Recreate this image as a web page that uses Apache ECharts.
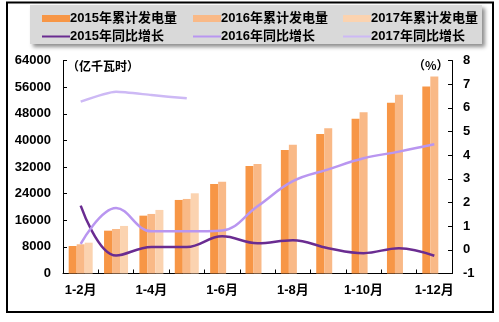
<!DOCTYPE html>
<html>
<head>
<meta charset="utf-8">
<script src="https://cdn.jsdelivr.net/npm/echarts@6/dist/echarts.min.js"></script>
<style>
html,body{margin:0;padding:0;background:#fff;}
#chart{width:499px;height:322px;}
</style>
</head>
<body>
<div id="chart"></div>
<script>
var categories = ['1-2月','1-3月','1-4月','1-5月','1-6月','1-7月','1-8月','1-9月','1-10月','1-11月','1-12月'];
var gen2015 = [8270, 12870, 17380, 22100, 26900, 32300, 37140, 41950, 46470, 51280, 56180];
var gen2016 = [8780, 13380, 17890, 22400, 27600, 32900, 38650, 43670, 48480, 53680, 59190];
var gen2017 = [9260, 14290, 19100, 24100, null, null, null, null, null, null, null];
var growth2015 = [1.87, -0.24, 0.12, 0.12, 0.57, 0.28, 0.41, 0.07, -0.14, 0.07, -0.25];
var growth2016 = [0.25, 1.77, 0.78, 0.78, 0.82, 1.84, 2.9, 3.4, 3.87, 4.15, 4.46];
var growth2017 = [6.26, 6.68, 6.54, 6.4];
var leftTicks = {min: 0, max: 64000, interval: 8000};
var rightTicks = {min: -1, max: 8, interval: 1};
var names = ['2015年累计发电量','2016年累计发电量','2017年累计发电量','2015年同比增长','2016年同比增长','2017年同比增长'];

var FONT = '"Liberation Sans", "Noto Sans CJK SC", sans-serif';
var barColors = ['#F79646', '#F9B987', '#FBD3B0'];
var lineColors = ['#6A2C91', '#B996F0', '#CDB9F5'];

var chart = echarts.init(document.getElementById('chart'), null, {renderer: 'canvas'});

var txt = {fontFamily: FONT, fontSize: 13, fontWeight: 'bold', color: '#000'};

function mkLegend(name, left, top, isLine) {
  return {
    data: [name], left: left, top: top, padding: 0,
    itemWidth: 28, itemHeight: isLine ? 2 : 7, icon: 'rect',
    itemGap: 0, textStyle: Object.assign({padding: [0,0,0,-5]}, txt),
    selectedMode: false
  };
}

var option = {
  animation: false,
  backgroundColor: '#fff',
  graphic: [
    {type: 'rect', z: -10, shape: {x: 7, y: 2.5, width: 486, height: 309.5},
     style: {fill: '#fff', stroke: '#000', lineWidth: 2}},
    {type: 'rect', z: 0, shape: {x: 30, y: 5, width: 452, height: 39},
     style: {fill: '#D9D9D9', shadowColor: 'rgba(0,0,0,0.45)', shadowBlur: 4, shadowOffsetX: 3, shadowOffsetY: 3}},
    {type: 'text', left: 67, top: 60, z: 10,
     style: {text: '（亿千瓦时）', font: 'bold 12px "Noto Sans CJK SC", sans-serif', fill: '#000'}},
    {type: 'text', left: 413, top: 59, z: 10,
     style: {text: '（%）', font: 'bold 12px "Noto Sans CJK SC", sans-serif', fill: '#000'}}
  ],
  legend: [
    mkLegend(names[0], 42, 12, false),
    mkLegend(names[1], 193, 12, false),
    mkLegend(names[2], 343, 12, false),
    mkLegend(names[3], 42, 30, true),
    mkLegend(names[4], 193, 30, true),
    mkLegend(names[5], 343, 30, true)
  ],
  grid: {left: 63, right: 47, top: 60.5, bottom: 48.5, containLabel: false},
  xAxis: {
    type: 'category', data: categories, boundaryGap: true,
    axisLine: {lineStyle: {color: '#000', width: 1}},
    axisTick: {show: true, inside: true, length: 4, interval: 0, lineStyle: {color: '#000'}},
    axisLabel: Object.assign({interval: 1, margin: 10}, txt),
    splitLine: {show: false}
  },
  yAxis: [
    {type: 'value', min: leftTicks.min, max: leftTicks.max, interval: leftTicks.interval,
     axisLine: {show: true, lineStyle: {color: '#000', width: 1}},
     axisTick: {show: true, inside: true, length: 4, lineStyle: {color: '#000'}},
     axisLabel: Object.assign({margin: 12, formatter: function (v) { return String(v); }}, txt),
     splitLine: {show: false}},
    {type: 'value', min: rightTicks.min, max: rightTicks.max, interval: rightTicks.interval, position: 'right',
     axisLine: {show: true, lineStyle: {color: '#000', width: 1}},
     axisTick: {show: true, inside: true, length: 4, lineStyle: {color: '#000'}},
     axisLabel: Object.assign({margin: 11, formatter: function (v) { return String(v); }}, txt),
     splitLine: {show: false}}
  ],
  series: [
    {name: names[0], type: 'bar', data: gen2015, barWidth: 8, barGap: '0%', itemStyle: {color: barColors[0]}},
    {name: names[1], type: 'bar', data: gen2016, barWidth: 8, barGap: '0%', itemStyle: {color: barColors[1]}},
    {name: names[2], type: 'bar', data: gen2017, barWidth: 8, barGap: '0%', itemStyle: {color: barColors[2]}},
    {name: names[3], type: 'line', yAxisIndex: 1, data: growth2015, smooth: 0.4, symbol: 'none', z: 5,
     lineStyle: {color: lineColors[0], width: 2.5}, itemStyle: {color: lineColors[0]}},
    {name: names[4], type: 'line', yAxisIndex: 1, data: growth2016, smooth: 0.4, symbol: 'none', z: 5,
     lineStyle: {color: lineColors[1], width: 2.5}, itemStyle: {color: lineColors[1]}},
    {name: names[5], type: 'line', yAxisIndex: 1, data: growth2017, smooth: 0.2, symbol: 'none', z: 5,
     lineStyle: {color: lineColors[2], width: 2.5}, itemStyle: {color: lineColors[2]}}
  ]
};
chart.setOption(option);
</script>
</body>
</html>
